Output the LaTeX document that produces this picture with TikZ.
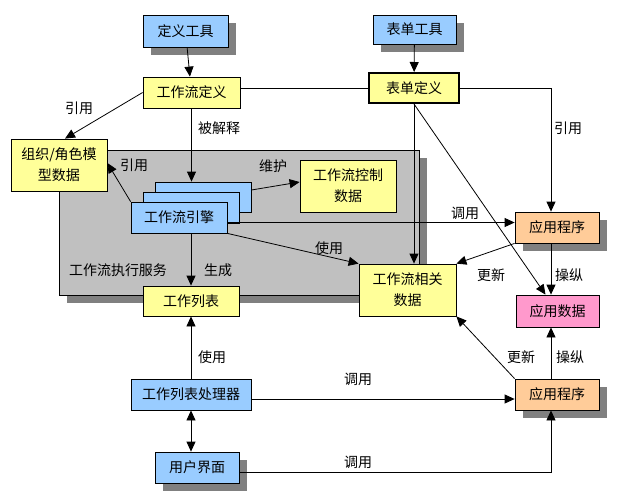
\documentclass[tikz,border=0pt]{standalone}
\usepackage{fontspec}
\setmainfont{Noto Sans CJK SC}
\usetikzlibrary{arrows.meta,shadows}
\definecolor{bblue}{HTML}{99CCFF}
\definecolor{byellow}{HTML}{FFFF99}
\definecolor{borange}{HTML}{FFCC99}
\definecolor{bpink}{HTML}{FF99CC}
\definecolor{bgray}{HTML}{C0C0C0}
\definecolor{sgray}{HTML}{808080}
\begin{document}
\begin{tikzpicture}[x=1pt,y=-1pt,
  font=\fontsize{14}{21}\selectfont,
  >={Triangle[length=10pt,width=9pt]},
  line width=0.8pt,
  box/.style={draw, rectangle, inner sep=0pt, align=center, line width=0.8pt},
  shad/.style={drop shadow={shadow xshift=8pt, shadow yshift=-8pt, fill=sgray, opacity=1}},
  lbl/.style={inner sep=0pt}]
\useasboundingbox[fill=white] (0,0) rectangle (622,499);

% execution service area
\fill[sgray] (67,158) rectangle (427,303);
\draw[fill=bgray] (59,150) rectangle (419,295);

% boxes
\node[box, shad, fill=bblue, minimum width=85pt, minimum height=32pt] (deftool) at (185.5,31) {定义工具};
\node[box, fill=byellow, minimum width=97pt, minimum height=31pt] (wfdef) at (191.5,92.5) {工作流定义};
\node[box, shad, fill=bblue, minimum width=83pt, minimum height=29pt] (formtool) at (414.5,29.5) {表单工具};
\node[box, fill=byellow, line width=2pt, minimum width=90pt, minimum height=30pt] (formdef) at (414,88) {表单定义};
\node[box, fill=byellow, minimum width=96pt, minimum height=52pt] (org) at (59,165) {组织/角色模\\型数据};
\node[box, fill=bblue, minimum width=96pt, minimum height=30pt] (back) at (203,197) {};
\node[box, fill=bblue, minimum width=96pt, minimum height=31pt] (mid) at (191,207.5) {};
\node[box, fill=bblue, minimum width=96pt, minimum height=31pt] (eng) at (179,217.5) {工作流引擎};
\node[box, fill=byellow, minimum width=96pt, minimum height=52pt] (ctrl) at (348,186) {工作流控制\\数据};
\node[box, shad, fill=borange, minimum width=84pt, minimum height=31pt] (app1) at (557,227.5) {应用程序};
\node[box, fill=byellow, minimum width=97pt, minimum height=52pt] (rel) at (407.5,290) {工作流相关\\数据};
\node[box, fill=bpink, minimum width=83pt, minimum height=32pt] (appdata) at (557.5,311) {应用数据};
\node[box, fill=byellow, minimum width=96pt, minimum height=30pt] (wl) at (191,301) {工作列表};
\node[box, fill=bblue, minimum width=120pt, minimum height=31pt] (wlp) at (191,394.5) {工作列表处理器};
\node[box, shad, fill=bblue, minimum width=84pt, minimum height=31pt] (ui) at (197,467.5) {用户界面};
\node[box, shad, fill=borange, minimum width=84pt, minimum height=31pt] (app2) at (557,394.5) {应用程序};

\coordinate (col) at (551,0);
\coordinate (callA) at ([yshift=-5pt]eng.east);
\coordinate (callB) at ([yshift=-4.5pt]wlp.east);
\coordinate (callC) at ([yshift=-4.5pt]ui.east);

% connectors
\draw[->] (deftool) -- (wfdef);
\draw[->] (formtool) -- (formdef);
\draw (formdef.west -| wfdef.east) -- (formdef.west);
\draw[->] (formdef.east) -| (app1.north -| col);
\draw[->] (wfdef.west) -- ([xshift=6pt]org.north);
\draw[->] (wfdef.south) -- (wfdef.south |- back.north);
\draw[->] (eng.north west) -- ([yshift=2pt]org.east);
\draw[->] ([yshift=7pt]back.east) -- ([yshift=4pt]ctrl.west);
\draw[->] (callA) -- (callA -| app1.west);
\draw[->] (eng.south east) -- (rel.north west);
\draw[->] (formdef.south) -- (formdef.south |- rel.north);
\draw[->] (formdef.south) -- ([xshift=-12pt]appdata.north);
\draw[->] (app1.south -| col) -- (appdata.north -| col);
\draw[->] (app1.south west) -- (rel.north east);
\draw[->] (wl.north |- eng.south) -- (wl.north);
\draw[->] (wlp.north) -- (wl.south);
\draw[<->] (wlp.south) -- (wlp.south |- ui.north);
\draw[->] (callB) -- (callB -| app2.west);
\draw[->] (callC) -| (app2.south -| col);
\draw[->] (app2.north -| col) -- (appdata.south -| col);
\draw[->] (app2.north west) -- (rel.south east);

% labels
\node[lbl] (l1) at (79,108) {引用};
\node[lbl] (l2) at (219,128) {被解释};
\node[lbl] (l3) at (568,128) {引用};
\node[lbl] (l4) at (134,165) {引用};
\node[lbl] (l5) at (273,166) {维护};
\node[lbl] (l6) at (465,213) {调用};
\node[lbl] (l7) at (329,248) {使用};
\node[lbl] (l8) at (491,275) {更新};
\node[lbl] (l9) at (569,275) {操纵};
\node[lbl] (l10) at (218,270) {生成};
\node[lbl] (l11) at (118,270) {工作流执行服务};
\node[lbl] (l12) at (212,357) {使用};
\node[lbl] (l13) at (358,379) {调用};
\node[lbl] (l14) at (521,357) {更新};
\node[lbl] (l15) at (570,357) {操纵};
\node[lbl] (l16) at (358,462) {调用};
\end{tikzpicture}
\end{document}
